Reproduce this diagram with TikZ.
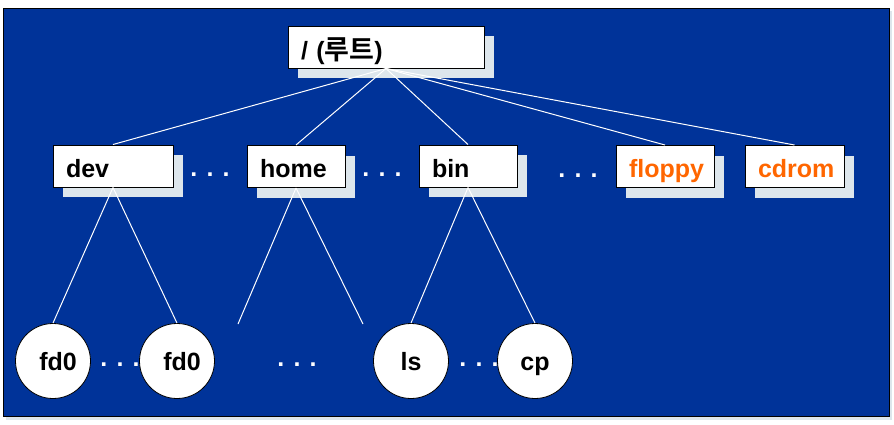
\documentclass[tikz,border=0pt]{standalone}
\usepackage{fontspec}
\setmainfont{Liberation Sans}
\newfontfamily\krfont{Noto Sans CJK KR}[BoldFont={Noto Sans CJK KR Bold}]
\usetikzlibrary{shadows}
\definecolor{bgblue}{RGB}{0,51,153}
\definecolor{shadowgray}{RGB}{221,230,236}
\definecolor{fileorange}{RGB}{255,102,0}

\begin{document}
\begin{tikzpicture}[x=1pt, y=-1pt, font=\fontsize{25}{30}\selectfont\bfseries,
	dirbox/.style = {draw, fill=white, line width=1pt, minimum height=42pt, inner xsep=13pt, inner ysep=8pt, text height=24pt, text depth=2pt, align=left, drop shadow={shadow xshift=10pt, shadow yshift=-10pt, fill=shadowgray, opacity=1}},
	leaf/.style = {draw, circle, fill=white, line width=0.8pt, minimum size=75pt, inner sep=0pt, text height=18pt, text depth=0pt},
	ellip/.style = {white, anchor=base},
	branch/.style = {white, line width=1pt}]
	\useasboundingbox (0,0) rectangle (894,424);
	\fill[shadowgray] (6,11) rectangle (892,420);
	\draw[fill=bgblue, line width=1pt] (3,8) rectangle (889,416);
	% directory boxes
	\node[dirbox, text width=170pt, text depth=0pt] (root) at (386,47) {/ ({\krfont\fontsize{27}{30}\selectfont 루트})};
	\node[dirbox, text width=94pt] (dev) at (113,166) {dev};
	\node[dirbox, text width=72pt] (home) at (296,166.5) {home};
	\node[dirbox, text width=72pt] (bin) at (468,166) {bin};
	\node[dirbox, text width=72pt, text=fileorange] (floppy) at (665,166.5) {floppy};
	\node[dirbox, text width=73pt, text=fileorange] (cdrom) at (794.5,166.5) {cdrom};
	% files
	\node[leaf] (fd0a) at (53,361) {\hspace{10pt}fd0};
	\node[leaf] (fd0b) at (177,361) {\hspace{10pt}fd0};
	\node[leaf] (ls) at (411,361) {ls};
	\node[leaf] (cp) at (535,361) {cp};
	\coordinate (homel) at (238,324);
	\coordinate (homer) at (363,324);
	\node[ellip] (gap1) at (210,176) {. . .};
	\node[ellip] (gap2) at (382,176) {. . .};
	\node[ellip] (gap3) at (578,177) {. . .};
	\node[ellip] (gap4) at (120,366) {. . .};
	\node[ellip] (gap5) at (297,366) {. . .};
	\node[ellip] (gap6) at (479,366) {. . .};
	\draw[branch] (root.south) -- (dev.north);
	\draw[branch] (root.south) -- (home.north);
	\draw[branch] (root.south) -- (bin.north);
	\draw[branch] (root.south) -- (floppy.north);
	\draw[branch] (root.south) -- (cdrom.north);
	\draw[branch] (dev.south) -- (fd0a.north);
	\draw[branch] (dev.south) -- (fd0b.north);
	\draw[branch] (home.south) -- (homel);
	\draw[branch] (home.south) -- (homer);
	\draw[branch] (bin.south) -- (ls.north);
	\draw[branch] (bin.south) -- (cp.north);
\end{tikzpicture}
\end{document}
